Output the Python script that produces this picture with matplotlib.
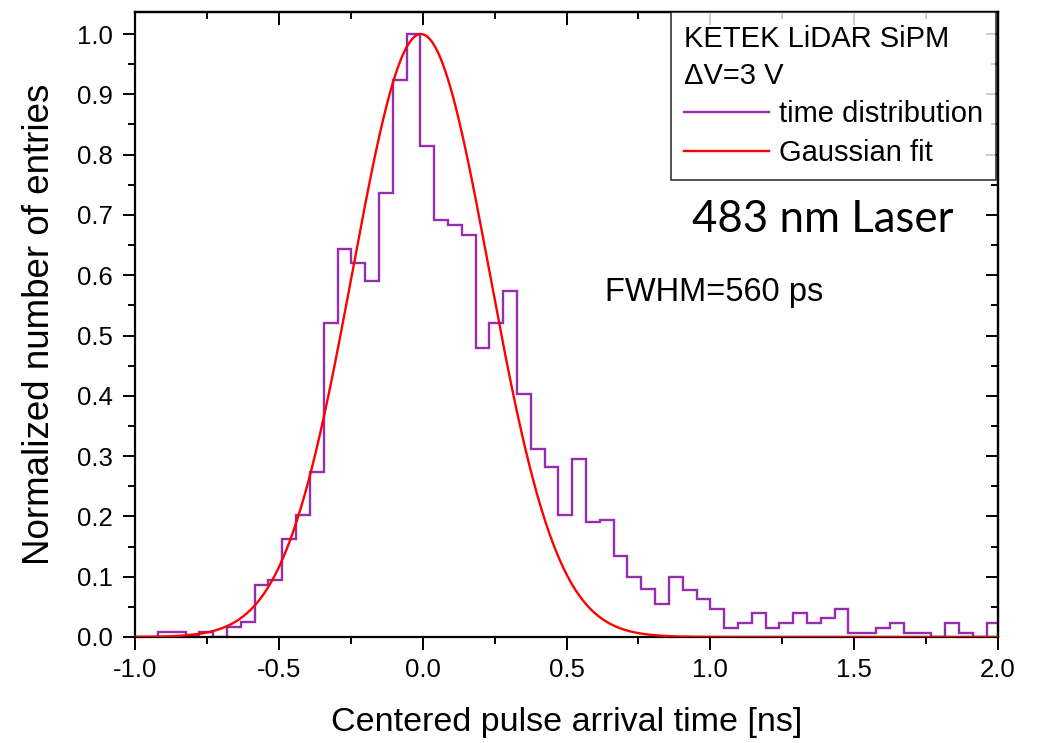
"""Time distribution of the KETEK LiDAR SiPM (483 nm laser)
with the Gaussian fit on top"""

import numpy as np
import matplotlib
matplotlib.use("Agg")
import matplotlib.pyplot as plt
from matplotlib.ticker import MultipleLocator

# histogram: bins of 0.048 ns, first edge at -1.016 ns
bin_width = 0.048
first_edge = -1.016
counts = [0.0, 0.0, 0.008, 0.008, 0.004, 0.009, 0.0, 0.017, 0.025, 0.087,
          0.095, 0.163, 0.202, 0.273, 0.520, 0.644, 0.621, 0.590, 0.736, 0.923,
          1.0, 0.814, 0.691, 0.683, 0.666, 0.480, 0.520, 0.573, 0.403, 0.312,
          0.282, 0.203, 0.295, 0.190, 0.194, 0.134, 0.100, 0.080, 0.055, 0.100,
          0.078, 0.063, 0.046, 0.015, 0.024, 0.039, 0.015, 0.024, 0.039, 0.024,
          0.032, 0.046, 0.007, 0.007, 0.015, 0.024, 0.007, 0.007, 0.0, 0.024,
          0.007, 0.0, 0.024]

# gaussian fit parameters (ns)
fit_center = -0.006
fit_fwhm = 0.56

edges = first_edge + bin_width * np.arange(len(counts) + 1)
sigma = fit_fwhm / (2 * np.sqrt(2 * np.log(2)))
t = np.linspace(-1.0, 2.0, 1200)
fit = np.exp(-(t - fit_center) ** 2 / (2 * sigma ** 2))

plt.rcParams['font.family'] = ['Liberation Sans', 'DejaVu Sans']

fig = plt.figure(figsize=(10.41, 7.43), dpi=100)
ax = fig.add_axes([0.1297, 0.1427, 0.829, 0.8411])

ax.stairs(counts, edges, color='#952fb0', lw=1.7, label='time distribution')
ax.plot(t, fit, color='#ff0000', lw=1.7, label='Gaussian fit', zorder=3)

ax.set_xlim(-1.0, 2.0)
ax.set_ylim(0.0, 1.0365)

ax.xaxis.set_major_locator(MultipleLocator(0.5))
ax.xaxis.set_minor_locator(MultipleLocator(0.25))
ax.yaxis.set_major_locator(MultipleLocator(0.1))
ax.yaxis.set_minor_locator(MultipleLocator(0.05))
ax.xaxis.set_major_formatter(lambda v, p: '%.1f' % v)
ax.yaxis.set_major_formatter(lambda v, p: '%.1f' % v)

ax.tick_params(which='major', direction='out', length=9, width=1.4,
               labelsize=18.5, pad=6)
ax.tick_params(which='minor', direction='out', length=5, width=1.4)
ax.tick_params(axis='y', pad=7)

# top and right ticks point inwards
top = ax.secondary_xaxis('top')
top.xaxis.set_major_locator(MultipleLocator(0.5))
top.xaxis.set_minor_locator(MultipleLocator(0.25))
top.tick_params(which='both', direction='in', labeltop=False, width=1.4)
top.tick_params(which='major', length=9)
top.tick_params(which='minor', length=5)
right = ax.secondary_yaxis('right')
right.yaxis.set_major_locator(MultipleLocator(0.1))
right.yaxis.set_minor_locator(MultipleLocator(0.05))
right.tick_params(which='both', direction='in', labelright=False, width=1.4)
right.tick_params(which='major', length=9)
right.tick_params(which='minor', length=5)

for s in list(ax.spines.values()) + [top.spines['top'], right.spines['right']]:
    s.set_linewidth(1.6)

ax.set_xlabel('Centered pulse arrival time [ns]', fontsize=24.5, labelpad=18)
ax.set_ylabel('Normalized number of entries', fontsize=26.5, labelpad=14)

leg = ax.legend(title='KETEK LiDAR SiPM\n\u0394V=3 V', loc='upper right',
                bbox_to_anchor=(0.998, 1.0), borderaxespad=0, fontsize=21,
                title_fontsize=21, alignment='left', frameon=True, fancybox=False,
                edgecolor='black', handlelength=2.9, handletextpad=0.35,
                labelspacing=0.36, borderpad=0.45)
leg.get_frame().set_linewidth(1.2)
leg.get_title().set_linespacing(1.4)

ax.text(0.645, 0.648, '483 nm Laser', transform=ax.transAxes, fontsize=31.5,
        family='Lato', va='baseline')
ax.text(0.545, 0.537, 'FWHM=560 ps', transform=ax.transAxes, fontsize=23.5,
        va='baseline')

fig.savefig('out.png', dpi=100)
